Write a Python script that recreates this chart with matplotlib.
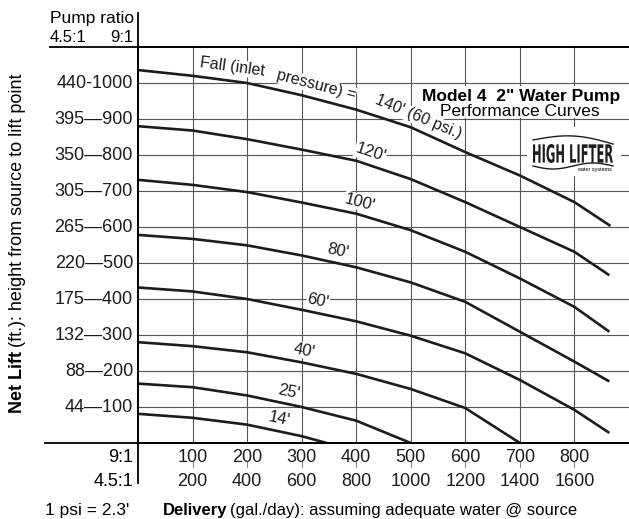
import matplotlib
matplotlib.use("Agg")
import matplotlib.pyplot as plt
import numpy as np
from matplotlib.patches import PathPatch, Rectangle
from matplotlib.textpath import TextPath
from matplotlib.font_manager import FontProperties
from matplotlib.transforms import Affine2D, IdentityTransform, blended_transform_factory

plt.rcParams['font.family'] = ['Liberation Sans', 'DejaVu Sans']

# delivery in gal/day at 9:1 pump ratio, net lift in ft at 9:1
deliv_9 = [100, 200, 300, 400, 500, 600, 700, 800]
deliv_45 = [200, 400, 600, 800, 1000, 1200, 1400, 1600]
lift_9 = [100, 200, 300, 400, 500, 600, 700, 800, 900, 1000]
lift_45 = [44, 88, 132, 175, 220, 265, 305, 350, 395, 440]

# performance curves, one per fall (inlet pressure)
x140 = [0, 100, 200, 300, 400, 500, 600, 700, 800, 866]
y140 = [1036, 1020, 1000, 966, 926, 877, 808, 743, 669, 603]
x120 = [0, 100, 200, 300, 400, 500, 600, 700, 800, 864]
y120 = [880, 868, 844, 815, 784, 733, 669, 600, 531, 466]
x100 = [0, 100, 200, 300, 400, 500, 600, 700, 800, 864]
y100 = [731, 717, 697, 668, 637, 591, 531, 457, 378, 309]
x80 = [0, 100, 200, 300, 400, 500, 600, 700, 800, 864]
y80 = [578, 567, 549, 521, 488, 446, 392, 309, 226, 171]
x60 = [0, 100, 200, 300, 400, 500, 600, 700, 800, 864]
y60 = [432, 421, 400, 370, 338, 298, 249, 175, 92, 28]
x40 = [0, 100, 200, 300, 400, 500, 600, 700]
y40 = [280, 269, 252, 224, 192, 150, 97, 0]
x25 = [0, 100, 200, 300, 400, 500]
y25 = [165, 155, 132, 100, 62, 0]
x14 = [0, 100, 200, 300, 346]
y14 = [81, 70, 51, 19, 0]

curves = [(x140, y140), (x120, y120), (x100, y100), (x80, y80),
          (x60, y60), (x40, y40), (x25, y25), (x14, y14)]
# label text, curve index, x position (data)
curve_labels = [("120'", 1, 426), ("100'", 2, 407), ("80'", 3, 367),
                ("60'", 4, 330), ("40'", 5, 304), ("25'", 6, 277), ("14'", 7, 259)]
fall_parts = [("Fall (inlet", 172, 38), ("pressure) =", 326, 38),
              ("140' (60 psi.)", 514, 37)]

W, H = 629, 519
fig = plt.figure(figsize=(W / 100, H / 100), dpi=100)
PX_X = 491 / 900   # pixels per data unit
PX_Y = 396 / 1100


def fx(x):
    return x / W


def fy(y):
    return 1 - y / H


def on_curve(i, x):
    xs, ys = curves[i]
    y = np.interp(x, xs, ys)
    dy = np.interp(x + 30, xs, ys) - np.interp(x - 30, xs, ys)
    ang = np.degrees(np.arctan2(dy * PX_Y, 60 * PX_X))
    return y, ang


ax = fig.add_axes([fx(138), fy(443), fx(629) - fx(138), fy(47) - fy(443)])
ax.set_xlim(0, 900)
ax.set_ylim(0, 1100)
ax.set_xticks(deliv_9)
ax.set_yticks(lift_9)
ax.grid(True, color='#555555', lw=0.8)
ax.tick_params(length=0, labelbottom=False, labelleft=False)
ax.spines['right'].set_visible(False)
for s in ['top', 'bottom', 'left']:
    ax.spines[s].set_linewidth(1.3)
ax.axhline(1100, xmin=-0.18, xmax=1, color='black', lw=1.3, clip_on=False)
ax.axhline(0, xmin=-0.19, xmax=1, color='black', lw=1.3, clip_on=False)
ax.axvline(0, ymin=-0.10, ymax=1.086, color='black', lw=1.3, clip_on=False)

for xs, ys in curves:
    ax.plot(xs, ys, color='#1c1c1c', lw=1.9, solid_capstyle='butt')

for txt, i, x in curve_labels:
    y, ang = on_curve(i, x)
    ax.text(x, y + 35, txt, fontsize=12, rotation=ang, ha='center', va='center',
            rotation_mode='anchor', color='#1c1c1c',
            bbox=dict(facecolor='white', edgecolor='none', pad=0.5))
for txt, x, off in fall_parts:
    y, ang = on_curve(0, x)
    ax.text(x, y + off, txt, fontsize=11.5, rotation=ang, ha='center', va='center',
            rotation_mode='anchor', color='#1c1c1c', zorder=6,
            bbox=dict(facecolor='white', edgecolor='none', pad=0.3))

# y tick labels: 4.5:1 lift - 9:1 lift
for a, b in zip(lift_45, lift_9):
    sep = '-' if b == 1000 else '\u2014'
    ax.text(-9, b, f"{a}{sep}{b}", fontsize=13, ha='right', va='center',
            color='#1c1c1c')

# x tick labels in two rows
tb = blended_transform_factory(ax.transData, fig.transFigure)
for a, b in zip(deliv_9, deliv_45):
    fig.text(a, fy(458), str(a), transform=tb, fontsize=13, ha='center',
             va='center', color='#1c1c1c')
    fig.text(a, fy(481), str(b), transform=tb, fontsize=13, ha='center',
             va='center', color='#1c1c1c')
    ax.plot([a, a], [-52, -68], color='#888888', lw=0.8, clip_on=False)

fig.text(fx(133), fy(458), "9:1", fontsize=13, ha='right', va='center')
fig.text(fx(133), fy(481), "4.5:1", fontsize=13, ha='right', va='center')

# pump ratio header
fig.text(fx(50), fy(19), "Pump ratio", fontsize=12.5, ha='left', va='center')
fig.text(fx(50), fy(38), "4.5:1", fontsize=12, ha='left', va='center')
fig.text(fx(133), fy(38), "9:1", fontsize=12, ha='right', va='center')

# title block (white patch sits under the curve labels but over the grid)
ax.add_patch(Rectangle((fx(413), fy(118)), fx(629) - fx(413), fy(86) - fy(118),
                       transform=fig.transFigure, facecolor='white',
                       edgecolor='none', zorder=2.5, clip_on=False))
fig.text(fx(521), fy(96), 'Model 4  2" Water Pump', fontsize=12.5, weight='bold',
         ha='center', va='center')
fig.text(fx(520), fy(111), "Performance Curves", fontsize=12.5, ha='center',
         va='center')

# logo
ax.add_patch(Rectangle((fx(527), fy(176)), fx(621) - fx(527), fy(127) - fy(176),
                       transform=fig.transFigure, facecolor='white',
                       edgecolor='none', zorder=2.5, clip_on=False))
tp = TextPath((0, 0), "HIGH LIFTER", size=10,
              prop=FontProperties(family='DejaVu Sans', weight='bold'))
ext = tp.get_extents()
sx = 80 / ext.width
sy = 19 / ext.height
logo = tp.transformed(Affine2D().translate(-ext.x0, -ext.y0).scale(sx, sy)
                      .translate(533, H - 163))
fig.add_artist(PathPatch(logo, transform=IdentityTransform(), facecolor='#1c1c1c',
                         edgecolor='none', zorder=4))
t = np.linspace(0, 1, 60)
wx = 533 + 80 * t
fig.add_artist(plt.Line2D(fx(wx), fy(140 - 6 * np.sin(np.pi * t) + 4 * t),
                          transform=fig.transFigure, color='#1c1c1c', lw=1, zorder=4))
fig.add_artist(plt.Line2D(fx(wx), fy(166 + 3 * np.sin(2 * np.pi * t)),
                          transform=fig.transFigure, color='#1c1c1c', lw=1, zorder=4))
fig.text(fx(594), fy(170), "water systems", fontsize=4, ha='center', va='center',
         zorder=4)

# bottom notes and axis titles
fig.canvas.draw()
r = fig.canvas.get_renderer()
fig.text(fx(45), fy(510), "1 psi = 2.3'", fontsize=12.5, ha='left', va='center')
d = fig.text(fx(163), fy(510), "Delivery", fontsize=12, weight='bold', ha='left',
             va='center')
dw = d.get_window_extent(r).width
fig.text(fx(163 + dw + 3), fy(510), "(gal./day): assuming adequate water @ source",
         fontsize=12, ha='left', va='center')

n = fig.text(fx(18), fy(413), "Net Lift", fontsize=13, weight='bold', rotation=90,
             ha='left', va='center', rotation_mode='anchor')
nh = n.get_window_extent(r).height
fig.text(fx(18), fy(413 - nh - 4), "(ft.): height from source to lift point",
         fontsize=13, rotation=90, ha='left', va='center', rotation_mode='anchor')

fig.savefig("out.png", dpi=100, facecolor='white')
